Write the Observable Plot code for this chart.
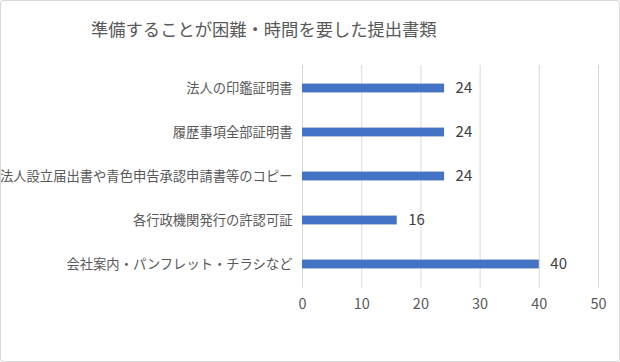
<!DOCTYPE html>
<html><head><meta charset="utf-8">
<script src="https://cdn.jsdelivr.net/npm/d3@7"></script>
<script src="https://cdn.jsdelivr.net/npm/@observablehq/plot@0.6"></script>
<style>
body{margin:0;background:#fff;font-family:"Noto Sans CJK JP",sans-serif;}
#wrap{position:relative;width:620px;height:362px;overflow:hidden;}
#frame{position:absolute;left:0;top:0;width:618px;height:360px;border:1px solid #d9d9d9;border-radius:3px;pointer-events:none;}
#title{height:50px;box-sizing:border-box;padding-top:17px;padding-left:91px;font-size:17.3px;color:#595959;line-height:24px;white-space:nowrap;}
</style></head>
<body>
<div id="wrap"><div id="title">準備することが困難・時間を要した提出書類</div><div id="chart"></div><div id="frame"></div></div>
<script>
const categories = ["法人の印鑑証明書","履歴事項全部証明書","法人設立届出書や青色申告承認申請書等のコピー","各行政機関発行の許認可証","会社案内・パンフレット・チラシなど"];
const values = [24,24,24,16,40];
const xTicks = [0,10,20,30,40,50];
const data = categories.map((c,i)=>({category:c,value:values[i]}));
const plot = Plot.plot({
  width:620, height:312,
  marginTop:15, marginBottom:74.5, marginLeft:302, marginRight:22,
  style:{fontFamily:'"Noto Sans CJK JP",sans-serif',color:"#595959",background:"transparent"},
  x:{domain:[0,50],ticks:xTicks,label:null},
  y:{domain:categories,label:null,padding:0},
  marks:[
    Plot.ruleX(xTicks,{stroke:"#d9d9d9",strokeWidth:1}),
    Plot.axisX({ticks:xTicks,tickSize:0,tickPadding:11,fontSize:14.5,fill:"#595959",label:null}),
    Plot.axisY({tickSize:0,tickPadding:10,fontSize:13.3,fill:"#595959",label:null}),
    Plot.barX(data,{x:"value",y:"category",fill:"#4472C4",insetTop:17.6,insetBottom:17.6}),
    Plot.text(data,{x:"value",y:"category",text:d=>String(d.value),textAnchor:"start",dx:11,fontSize:15,fill:"#404040"})
  ]
});
document.getElementById("chart").appendChild(plot);
</script>
</body></html>
